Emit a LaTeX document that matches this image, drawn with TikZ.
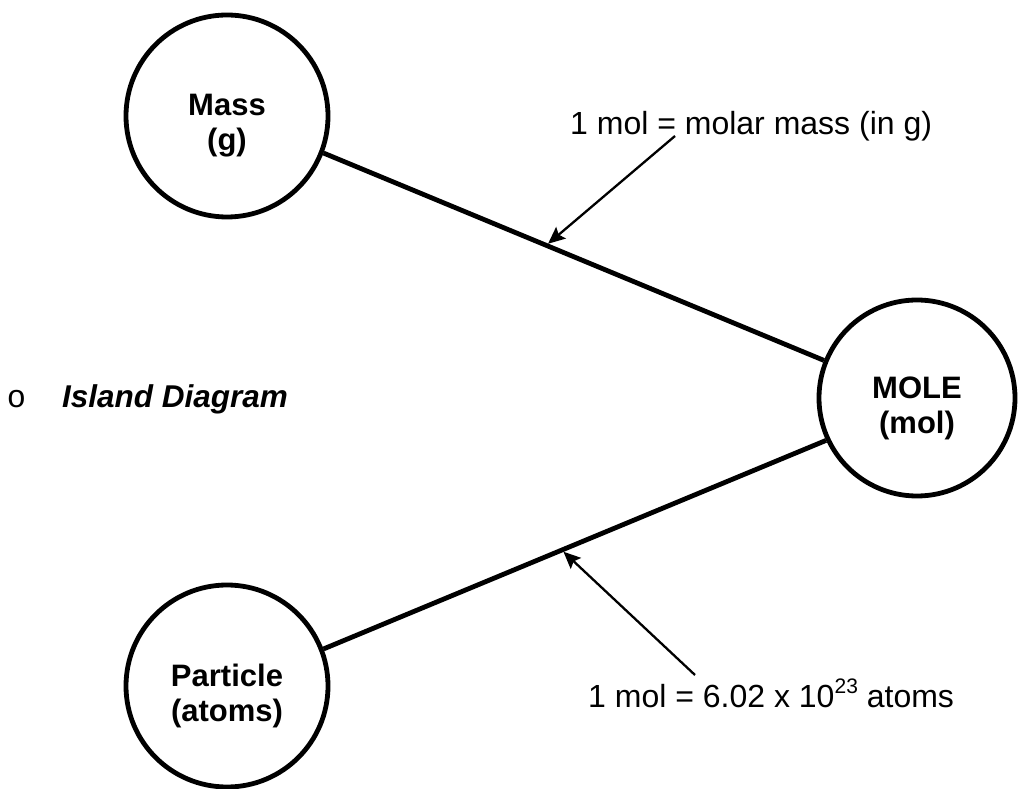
\documentclass[tikz,border=0pt]{standalone}
\usepackage{fontspec}
\setmainfont{Liberation Sans}
\newfontfamily\bulletfont{Liberation Mono}
\usetikzlibrary{arrows.meta,calc}
\tikzset{
  island/.style={draw, circle, line width=4.8pt, inner sep=0pt},
  islandtext/.style={align=center, inner sep=0pt, font=\fontsize{31}{35}\selectfont\bfseries},
  bridge/.style={line width=4.8pt},
  pointer/.style={line width=2.3pt, -{Stealth[length=17pt,width=15pt,inset=3pt]}, shorten >=2.4pt},
  note/.style={inner sep=0pt, anchor=base west, font=\fontsize{32}{36}\selectfont}
}
\begin{document}
\begin{tikzpicture}[x=1pt,y=1pt]
\useasboundingbox (0,0) rectangle (1018,788);

% the three islands
\node[island, minimum size=202pt] (mass) at (227,672) {};
\node[island, minimum size=196pt] (mole) at (917,390) {};
\node[island, minimum size=202pt] (particle) at (227,102) {};

\node[islandtext] (massT) at ([yshift=-10pt]mass.center) {Mass\\(g)};
\node[islandtext] (moleT) at ([yshift=-10pt]mole.center) {MOLE\\(mol)};
\node[islandtext] (particleT) at ([yshift=-10pt]particle.center) {Particle\\(atoms)};

% bridges between islands
\draw[bridge] (mass.339) -- (mole.158);
\draw[bridge] (particle.21) -- (mole.205);

% conversion factors
\node[note] (f1) at (570,653) {1 mol = molar mass (in g)};
\node[note] (f2) at (588,81) {1 mol = 6.02 x 10\raisebox{0.42em}{\fontsize{21}{21}\selectfont 23} atoms};

\coordinate (t1) at (675,652);
\coordinate (t2) at (695,113);
\draw[pointer] (t1) -- ($(mass.339)!0.445!(mole.158)$);
\draw[pointer] (t2) -- ($(particle.21)!0.474!(mole.205)$);

% heading
\node[inner sep=0pt, anchor=base, font=\fontsize{32}{36}\selectfont\bulletfont] (bul) at (16.5,380) {o};
\node[note, font=\fontsize{31.5}{36}\selectfont\bfseries\itshape] (title) at (62,380) {Island Diagram};
\end{tikzpicture}
\end{document}
